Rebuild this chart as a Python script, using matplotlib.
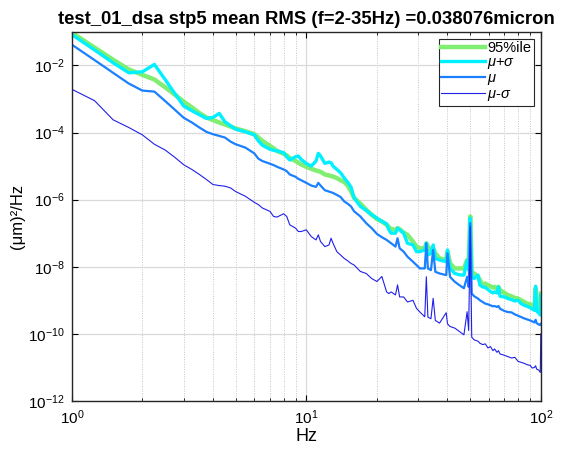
import matplotlib
matplotlib.use("Agg")
import matplotlib.pyplot as plt
import numpy as np
from matplotlib.ticker import FixedLocator, LogLocator, NullFormatter, FuncFormatter

plt.rcParams['font.family'] = ['Liberation Sans', 'DejaVu Sans']
plt.rcParams['mathtext.fontset'] = 'custom'
plt.rcParams['mathtext.rm'] = 'Liberation Sans'
plt.rcParams['mathtext.it'] = 'Liberation Sans:italic'

# Frequency (Hz)
freq = [1.0, 1.25, 1.5, 1.75, 2.0, 2.25, 2.5, 2.75, 3.0, 3.25, 3.5, 3.75, 4.0, 4.25,
        4.5, 4.75, 5.0, 5.5, 6.0, 6.25, 6.5, 7.0, 7.25, 7.5, 8.0, 8.25, 8.5, 9.0,
        9.25, 9.5, 10.0, 10.5, 11.0, 11.25, 11.5, 12.0, 12.5, 12.75, 13.0, 13.5,
        14.0, 14.5, 15.0, 15.5, 16.0, 17.0, 18.0, 19.0, 20.0, 21.0, 22.0, 22.5,
        23.0, 24.0, 24.5, 25.0, 26.0, 27.0, 28.5, 29.5, 30.5, 32.0, 32.5, 33.0,
        34.0, 34.75, 35.5, 37.0, 39.5, 40.0, 41.0, 43.0, 45.0, 47.0, 48.5, 49.25,
        50.0,
        50.75, 52.0, 54.0, 55.0, 56.5, 58.0, 59.5, 61.0, 62.5, 63.5, 65.0, 66.0,
        67.0, 70.0, 72.5, 75.0, 77.5, 80.0, 82.5, 85.0, 87.5, 90.0, 92.0, 94.0,
        95.0, 96.0, 98.0, 99.5, 100.0]

# log10 of PSD, (um)^2/Hz
p95_log = [-1.02, -1.47, -1.83, -2.12, -2.28, -2.42, -2.65, -2.87, -3.08, -3.25,
           -3.42, -3.55, -3.63, -3.70, -3.76, -3.82, -3.88, -3.96, -4.05, -4.15,
           -4.25, -4.40, -4.47, -4.55, -4.63, -4.68, -4.76, -4.85, -4.90, -4.95,
           -5.02, -5.08, -5.13, -5.15, -5.17, -5.25, -5.28, -5.30, -5.31, -5.36,
           -5.42, -5.47, -5.58, -5.75, -5.95, -6.12, -6.30, -6.45, -6.58, -6.65,
           -6.75, -6.82, -6.88, -6.90, -6.85, -6.88, -6.98, -7.05, -7.25, -7.40,
           -7.45, -7.45, -7.30, -7.40, -7.50, -7.45, -7.60, -7.75, -7.80, -7.55,
           -7.90, -8.05, -8.05, -8.05, -7.80, -7.90,
           -6.50,
           -8.25, -8.20, -8.30, -8.40, -8.55, -8.50, -8.55, -8.58, -8.62, -8.60,
           -8.65, -8.60, -8.70, -8.78, -8.85, -8.88, -8.93, -8.95, -9.00, -9.05,
           -9.10, -9.12, -9.17, -9.20, -8.65, -9.25, -9.28, -9.22, -8.80]

mps_log = [-1.08, -1.54, -1.92, -2.22, -2.19, -1.97, -2.42, -2.84, -3.21, -3.35,
           -3.47, -3.58, -3.55, -3.43, -3.68, -3.80, -3.90, -3.98, -4.07, -4.25,
           -4.38, -4.50, -4.53, -4.55, -4.60, -4.72, -4.82, -4.72, -4.70, -4.80,
           -4.92, -5.00, -4.85, -4.62, -4.70, -4.92, -4.88, -4.90, -5.00, -5.10,
           -5.20, -5.35, -5.48, -5.62, -5.95, -6.20, -6.32, -6.45, -6.55, -6.65,
           -6.72, -6.90, -7.00, -7.00, -6.85, -6.90, -7.00, -7.30, -7.35, -7.55,
           -7.55, -7.50, -7.30, -7.65, -7.60, -7.35, -7.75, -7.80, -7.85, -7.50,
           -8.05, -8.20, -8.24, -8.25, -7.82, -8.10,
           -6.55,
           -8.30, -8.35, -8.25, -8.55, -8.60, -8.62, -8.68, -8.74, -8.78, -8.75,
           -8.78, -8.60, -8.88, -8.90, -8.95, -8.98, -9.02, -9.00, -9.10, -9.15,
           -9.18, -9.22, -9.26, -9.30, -8.58, -9.32, -9.38, -9.44, -8.85]

mu_log = [-1.38, -1.84, -2.22, -2.54, -2.75, -2.78, -3.06, -3.32, -3.56, -3.70,
          -3.85, -3.98, -4.05, -4.10, -4.15, -4.27, -4.35, -4.45, -4.62, -4.78,
          -4.85, -4.93, -4.97, -5.02, -5.10, -5.15, -5.25, -5.32, -5.38, -5.42,
          -5.50, -5.58, -5.62, -5.50, -5.58, -5.72, -5.76, -5.78, -5.80, -5.86,
          -5.92, -6.05, -6.12, -6.20, -6.35, -6.50, -6.70, -6.85, -7.02, -7.12,
          -7.20, -7.25, -7.30, -7.40, -7.15, -7.45, -7.55, -7.70, -7.85, -7.95,
          -8.05, -8.05, -7.30, -8.05, -8.10, -7.50, -8.15, -8.20, -8.25, -7.60,
          -8.30, -8.45, -8.55, -8.64, -8.30, -8.60,
          -6.70,
          -8.80, -8.88, -8.95, -9.00, -9.05, -9.10, -9.12, -9.15, -9.18, -9.17,
          -9.20, -9.17, -9.25, -9.32, -9.35, -9.36, -9.42, -9.46, -9.50, -9.54,
          -9.57, -9.60, -9.63, -9.66, -9.58, -9.68, -9.72, -9.74, -9.70]

mms_log = [-2.71, -3.05, -3.62, -3.85, -4.07, -4.35, -4.52, -4.74, -4.96, -5.10,
           -5.25, -5.40, -5.55, -5.58, -5.60, -5.65, -5.76, -5.90, -6.08, -6.15,
           -6.25, -6.35, -6.50, -6.52, -6.42, -6.50, -6.75, -6.85, -6.95, -6.95,
           -6.90, -7.10, -7.20, -7.05, -7.25, -7.40, -7.35, -7.15, -7.30, -7.55,
           -7.65, -7.75, -7.82, -7.90, -7.95, -8.14, -8.20, -8.35, -8.44, -8.29,
           -8.75, -8.80, -8.75, -8.84, -8.54, -8.90, -8.90, -9.05, -9.00, -9.24,
           -9.35, -9.49, -8.30, -9.50, -9.55, -8.94, -9.60, -9.68, -9.37, -9.70,
           -9.78, -9.83, -9.93, -10.03, -9.34, -9.90,
           -6.80,
           -10.10, -10.18, -10.22, -10.28, -10.32, -10.30, -10.42, -10.38, -10.50, -10.45,
           -10.55, -10.50, -10.60, -10.64, -10.68, -10.72, -10.70, -10.82, -10.85, -10.88,
           -10.92, -10.94, -11.02, -11.00, -10.95, -11.05, -11.08, -11.15, -10.00]

labels = ['95%ile', r'$\mu$+$\sigma$', r'$\mu$', r'$\mu$-$\sigma$']
colors = ['#80ee70', '#00f0ff', '#1a80ff', '#2020e8']
widths = [3.2, 2.4, 1.6, 0.8]
title = 'test_01_dsa stp5 mean RMS (f=2-35Hz) =0.038076micron'

f = np.array(freq)
series = [p95_log, mps_log, mu_log, mms_log]

fig = plt.figure(figsize=(5.61, 4.49), dpi=100)
ax = fig.add_axes([0.128, 0.107, 0.836, 0.822])
for s, lab, c, w in zip(series, labels, colors, widths):
    ax.loglog(f, 10.0 ** np.array(s), color=c, lw=w, label=lab)

ax.set_xlim(1, 100)
ax.set_ylim(1e-12, 1e-1)
ax.yaxis.set_major_locator(FixedLocator([1e-12, 1e-10, 1e-8, 1e-6, 1e-4, 1e-2]))
ax.yaxis.set_minor_locator(FixedLocator([]))
ax.xaxis.set_major_locator(FixedLocator([1, 10, 100]))
ax.xaxis.set_minor_locator(LogLocator(base=10, subs=np.arange(2, 10)))
ax.xaxis.set_minor_formatter(NullFormatter())
fmt = FuncFormatter(lambda v, p: r'$10^{%d}$' % int(round(np.log10(v))))
ax.xaxis.set_major_formatter(fmt)
ax.yaxis.set_major_formatter(fmt)

ax.grid(True, which='major', color='#d9d9d9', lw=0.9, ls='-')
ax.grid(True, which='minor', axis='x', color='#c4c4c4', lw=0.7, ls=(0, (1, 1.5)))
ax.set_axisbelow(True)
ax.tick_params(which='both', direction='in', top=True, right=True, labelsize=11, pad=5)
ax.tick_params(which='major', length=4)
ax.tick_params(which='minor', length=2.5)
for sp in ax.spines.values():
    sp.set_linewidth(1.0)
    sp.set_color('#262626')

ax.set_title(title, fontsize=13.3, fontweight='bold', pad=6)
ax.set_xlabel('Hz', fontsize=13, labelpad=1)
ax.set_ylabel('(μm)²/Hz', fontsize=12, labelpad=2)

leg = ax.legend(loc='upper right', fontsize=10.5, fancybox=False, framealpha=1,
                edgecolor='#262626', handlelength=3.0, borderpad=0.15,
                labelspacing=0.0, handletextpad=0.15, borderaxespad=0.5)
leg.get_frame().set_linewidth(0.8)

fig.savefig('out.png', dpi=100)
